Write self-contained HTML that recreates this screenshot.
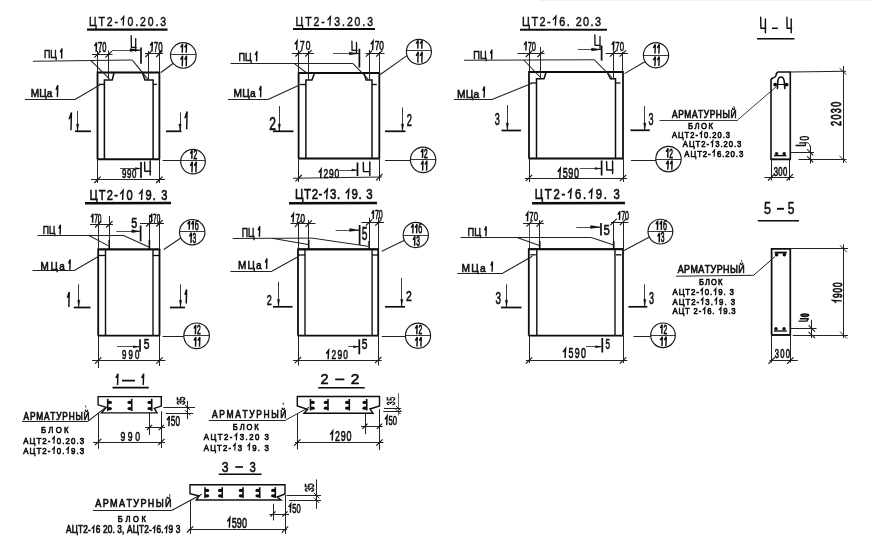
<!DOCTYPE html>
<html><head><meta charset="utf-8"><title>drawing</title>
<style>html,body{margin:0;padding:0;background:#fff;}body{width:872px;height:544px;overflow:hidden;font-family:"Liberation Sans",sans-serif;}</style></head>
<body>
<svg width="872" height="544" viewBox="0 0 872 544" font-family="'Liberation Sans', sans-serif" fill="#111" style="display:block">
<rect width="872" height="544" fill="#ffffff"/>
<g filter="url(#soft)">
<path d="M97.5 159.2 L97.5 72.5 L159.4 72.5 L159.4 159.2" fill="none" stroke="#0c0c0c" stroke-width="1.8" stroke-linejoin="miter"/>
<line x1="97.1" y1="159.2" x2="159.8" y2="159.2" stroke="#0c0c0c" stroke-width="2"/>
<path d="M104.4 159.2 L104.4 80 L112.2 80 L114 73" fill="none" stroke="#0c0c0c" stroke-width="1.5" stroke-linejoin="miter"/>
<path d="M153.1 159.2 L153.1 80 L145 80 L142.5 73" fill="none" stroke="#0c0c0c" stroke-width="1.5" stroke-linejoin="miter"/>
<line x1="99" y1="84.4" x2="104.4" y2="84.4" stroke="#0c0c0c" stroke-width="1.3"/>
<line x1="153.1" y1="84.4" x2="156.9" y2="84.4" stroke="#0c0c0c" stroke-width="1.3"/>
<path d="M298.6 158.6 L298.6 73 L379.3 73 L379.3 158.6" fill="none" stroke="#0c0c0c" stroke-width="1.8" stroke-linejoin="miter"/>
<line x1="298.2" y1="158.6" x2="379.7" y2="158.6" stroke="#0c0c0c" stroke-width="2"/>
<path d="M305.9 158.6 L305.9 80 L311.9 80 L314.4 73.5" fill="none" stroke="#0c0c0c" stroke-width="1.5" stroke-linejoin="miter"/>
<path d="M372 158.6 L372 80 L366.2 80 L364 73.5" fill="none" stroke="#0c0c0c" stroke-width="1.5" stroke-linejoin="miter"/>
<line x1="300.1" y1="84.5" x2="305.9" y2="84.5" stroke="#0c0c0c" stroke-width="1.3"/>
<line x1="372" y1="84.5" x2="376.8" y2="84.5" stroke="#0c0c0c" stroke-width="1.3"/>
<path d="M529 158.5 L529 72 L623 72 L623 158.5" fill="none" stroke="#0c0c0c" stroke-width="1.8" stroke-linejoin="miter"/>
<line x1="528.6" y1="158.5" x2="623.4" y2="158.5" stroke="#0c0c0c" stroke-width="2"/>
<path d="M536.5 158.5 L536.5 78.8 L544 78.8 L546 72.5" fill="none" stroke="#0c0c0c" stroke-width="1.5" stroke-linejoin="miter"/>
<path d="M615.5 158.5 L615.5 78.8 L610.5 78.8 L607.4 72.5" fill="none" stroke="#0c0c0c" stroke-width="1.5" stroke-linejoin="miter"/>
<line x1="530.5" y1="83" x2="536.5" y2="83" stroke="#0c0c0c" stroke-width="1.3"/>
<line x1="615.5" y1="83" x2="620.5" y2="83" stroke="#0c0c0c" stroke-width="1.3"/>
<g transform="translate(89 25.7)"><text transform="scale(0.8000 1)" font-size="13.08" x="0.00 12.01 22.33 31.93 48.23 57.83 63.80 73.40 83.01 88.97" stroke="#111" stroke-width="0.5">ЦТ2-0.20.3</text><path d="M31.83 -5.58 L34.74 -9 L34.16 0" fill="none" stroke="#111" stroke-width="1.33" stroke-linejoin="miter" stroke-linecap="butt"/></g>
<line x1="87" y1="29.6" x2="167.5" y2="29.6" stroke="#0c0c0c" stroke-width="2.1"/>
<g transform="translate(295.5 25.7)"><text transform="scale(0.8000 1)" font-size="13.08" x="0.00 12.07 22.45 32.12 48.54 58.21 64.24 73.90 83.57 89.60" stroke="#111" stroke-width="0.5">ЦТ2-3.20.3</text><path d="M32.03 -5.58 L34.94 -9 L34.36 0" fill="none" stroke="#111" stroke-width="1.33" stroke-linejoin="miter" stroke-linecap="butt"/></g>
<line x1="293" y1="29.1" x2="375" y2="29.1" stroke="#0c0c0c" stroke-width="2"/>
<g transform="translate(522 25.6)"><text transform="scale(0.8000 1)" font-size="13.52" x="0.00 11.78 21.82 31.12 46.71 56.01 67.09 76.39 85.69 91.23" stroke="#111" stroke-width="0.5">ЦТ2-6.20.3</text><path d="M30.89 -5.77 L33.9 -9.3 L33.3 0" fill="none" stroke="#111" stroke-width="1.36" stroke-linejoin="miter" stroke-linecap="butt"/></g>
<line x1="520" y1="29.8" x2="607" y2="29.8" stroke="#0c0c0c" stroke-width="2.1"/>
<g transform="translate(93.8 52)"><text transform="scale(0.5426 1)" font-size="13.81" x="7.68 15.36" stroke="#111" stroke-width="0.65">70</text><path d="M0.67 -5.89 L2.75 -9.5 L2.33 0" fill="none" stroke="#111" stroke-width="1.45" stroke-linejoin="miter" stroke-linecap="butt"/></g>
<line x1="92" y1="54.5" x2="112.5" y2="54.5" stroke="#222" stroke-width="1.05"/>
<line x1="97.5" y1="51" x2="97.5" y2="72.5" stroke="#222" stroke-width="1.05"/>
<line x1="108.5" y1="50.5" x2="108.5" y2="79.5" stroke="#222" stroke-width="1"/>
<line x1="94.3" y1="57.6" x2="100.7" y2="51.2" stroke="#1a1a1a" stroke-width="1.2"/>
<line x1="105.4" y1="57.6" x2="111.8" y2="51.2" stroke="#1a1a1a" stroke-width="1.2"/>
<g transform="translate(149.5 51.5)"><text transform="scale(0.5643 1)" font-size="13.81" x="7.68 15.36" stroke="#111" stroke-width="0.65">70</text><path d="M0.69 -5.89 L2.86 -9.5 L2.43 0" fill="none" stroke="#111" stroke-width="1.45" stroke-linejoin="miter" stroke-linecap="butt"/></g>
<line x1="145" y1="53.5" x2="163" y2="53.5" stroke="#222" stroke-width="1.05"/>
<line x1="148.5" y1="51" x2="148.5" y2="79.5" stroke="#222" stroke-width="1"/>
<line x1="159.5" y1="51.5" x2="159.5" y2="72.5" stroke="#222" stroke-width="1.05"/>
<line x1="145.4" y1="57" x2="151.8" y2="50.6" stroke="#1a1a1a" stroke-width="1.2"/>
<line x1="156.2" y1="57" x2="162.6" y2="50.6" stroke="#1a1a1a" stroke-width="1.2"/>
<line x1="112" y1="50.5" x2="140.5" y2="50.5" stroke="#222" stroke-width="0.8"/>
<path d="M140.5 50 L130 48.5 L130 51.5 Z" fill="#111" stroke="#111" stroke-width="0.3" stroke-linejoin="miter"/>
<line x1="141" y1="47.5" x2="141" y2="63.8" stroke="#0c0c0c" stroke-width="1.7"/>
<path d="M131.2 35.6 L131.4 47.46 L136.1 47.46 M135.7 38.72 L135.7 51.2" fill="none" stroke="#0c0c0c" stroke-width="1.3" stroke-linecap="round" stroke-linejoin="round"/>
<g transform="translate(43.9 58.2)"><text transform="scale(0.7703 1)" font-size="11.48" x="0.00 8.25" stroke="#111" stroke-width="0.6">ПЦ</text></g>
<g transform="translate(59.8 58.5)"><path d="M0.51 -6.14 L2.11 -9.9 L1.79 0" fill="none" stroke="#111" stroke-width="1.45" stroke-linejoin="miter" stroke-linecap="butt"/></g>
<line x1="33" y1="61.2" x2="132.5" y2="60.1" stroke="#222" stroke-width="1.05"/>
<line x1="132.5" y1="60.3" x2="148" y2="79.4" stroke="#222" stroke-width="1.05"/>
<line x1="91" y1="60.6" x2="109.4" y2="78.8" stroke="#222" stroke-width="1.05"/>
<g transform="translate(30.8 96.7)"><text transform="scale(0.8940 1)" font-size="11.34" x="0.00 9.44 17.83" stroke="#111" stroke-width="0.6">МЦа</text></g>
<g transform="translate(55.6 97)"><path d="M0.51 -7.32 L2.11 -11.8 L1.79 0" fill="none" stroke="#111" stroke-width="1.45" stroke-linejoin="miter" stroke-linecap="butt"/></g>
<line x1="25" y1="99.5" x2="75" y2="99.5" stroke="#222" stroke-width="1.05"/>
<line x1="75" y1="99.5" x2="101" y2="84.2" stroke="#222" stroke-width="1.05"/>
<circle cx="183.3" cy="55.4" r="12.8" fill="none" stroke="#151515" stroke-width="1.15"/>
<line x1="170.5" y1="54.5" x2="196.1" y2="54.5" stroke="#222" stroke-width="0.9"/>
<g transform="translate(180 52.8)"><path d="M0.63 -5.39 L2.62 -8.7 L2.22 0" fill="none" stroke="#111" stroke-width="1.45" stroke-linejoin="miter" stroke-linecap="butt"/><path d="M4.6 -5.39 L6.58 -8.7 L6.18 0" fill="none" stroke="#111" stroke-width="1.45" stroke-linejoin="miter" stroke-linecap="butt"/></g>
<g transform="translate(180 66.2)"><path d="M0.63 -6.51 L2.62 -10.5 L2.22 0" fill="none" stroke="#111" stroke-width="1.45" stroke-linejoin="miter" stroke-linecap="butt"/><path d="M4.6 -6.51 L6.58 -10.5 L6.18 0" fill="none" stroke="#111" stroke-width="1.45" stroke-linejoin="miter" stroke-linecap="butt"/></g>
<line x1="173" y1="63.5" x2="161" y2="72.5" stroke="#222" stroke-width="1.05"/>
<g transform="translate(68.4 130.3)"><path d="M0.74 -11.04 L3.04 -17.8 L2.58 0" fill="none" stroke="#111" stroke-width="1.45" stroke-linejoin="miter" stroke-linecap="butt"/></g>
<line x1="77.5" y1="111" x2="77.5" y2="131" stroke="#222" stroke-width="0.9"/>
<path d="M77.6 131 L76.4 124 L78.8 124 Z" fill="#111" stroke="#111" stroke-width="0.3" stroke-linejoin="miter"/>
<line x1="75" y1="131.3" x2="91" y2="131.3" stroke="#0c0c0c" stroke-width="1.7"/>
<line x1="166" y1="131.3" x2="181.5" y2="131.3" stroke="#0c0c0c" stroke-width="1.7"/>
<line x1="180.5" y1="112.5" x2="180.5" y2="131" stroke="#222" stroke-width="0.9"/>
<path d="M180 131 L178.8 124 L181.2 124 Z" fill="#111" stroke="#111" stroke-width="0.3" stroke-linejoin="miter"/>
<g transform="translate(184.2 129.3)"><path d="M0.7 -11.04 L2.9 -17.8 L2.46 0" fill="none" stroke="#111" stroke-width="1.45" stroke-linejoin="miter" stroke-linecap="butt"/></g>
<line x1="97.5" y1="159" x2="97.5" y2="183" stroke="#222" stroke-width="1.05"/>
<line x1="159.5" y1="159" x2="159.5" y2="183" stroke="#222" stroke-width="1.05"/>
<line x1="91" y1="179.5" x2="165" y2="179.5" stroke="#222" stroke-width="1.05"/>
<line x1="94.3" y1="183" x2="100.7" y2="176.6" stroke="#1a1a1a" stroke-width="1.2"/>
<line x1="156.2" y1="183" x2="162.6" y2="176.6" stroke="#1a1a1a" stroke-width="1.2"/>
<g transform="translate(122 178)"><text transform="scale(0.6400 1)" font-size="12.35" x="0.00 7.89 15.79" stroke="#111" stroke-width="0.65">990</text></g>
<line x1="120" y1="168.5" x2="140.5" y2="168.5" stroke="#222" stroke-width="0.8"/>
<path d="M140.5 168.5 L135.5 167.5 L135.5 169.5 Z" fill="#111" stroke="#111" stroke-width="0.3" stroke-linejoin="miter"/>
<line x1="141" y1="162" x2="141" y2="178" stroke="#0c0c0c" stroke-width="1.7"/>
<path d="M144.6 162.3 L144.8 171.19 L150.6 171.19 M150.2 161.03 L150.2 175" fill="none" stroke="#0c0c0c" stroke-width="1.4" stroke-linecap="round" stroke-linejoin="round"/>
<circle cx="193" cy="161.6" r="12.3" fill="none" stroke="#151515" stroke-width="1.15"/>
<line x1="180.7" y1="160.5" x2="205.3" y2="160.5" stroke="#222" stroke-width="0.9"/>
<g transform="translate(189.7 158.9)"><text transform="scale(0.5291 1)" font-size="12.57" x="6.99" stroke="#111" stroke-width="0.8">2</text><path d="M0.59 -5.36 L2.44 -8.65 L2.07 0" fill="none" stroke="#111" stroke-width="1.45" stroke-linejoin="miter" stroke-linecap="butt"/></g>
<g transform="translate(189.7 172.4)"><path d="M0.63 -6.57 L2.62 -10.6 L2.22 0" fill="none" stroke="#111" stroke-width="1.45" stroke-linejoin="miter" stroke-linecap="butt"/><path d="M4.6 -6.57 L6.58 -10.6 L6.18 0" fill="none" stroke="#111" stroke-width="1.45" stroke-linejoin="miter" stroke-linecap="butt"/></g>
<line x1="162.5" y1="160.5" x2="180.8" y2="160.5" stroke="#222" stroke-width="1.05"/>
<g transform="translate(294 50)"><text transform="scale(0.6400 1)" font-size="13.08" x="9.25 18.51" stroke="#111" stroke-width="0.65">70</text><path d="M0.74 -5.58 L3.07 -9 L2.61 0" fill="none" stroke="#111" stroke-width="1.44" stroke-linejoin="miter" stroke-linecap="butt"/></g>
<line x1="292" y1="53.5" x2="314" y2="53.5" stroke="#222" stroke-width="1.05"/>
<line x1="298.5" y1="50" x2="298.5" y2="73" stroke="#222" stroke-width="1.05"/>
<line x1="308.5" y1="51" x2="308.5" y2="79.5" stroke="#222" stroke-width="1"/>
<line x1="295.4" y1="56.5" x2="301.8" y2="50.1" stroke="#1a1a1a" stroke-width="1.2"/>
<line x1="305.3" y1="56.5" x2="311.7" y2="50.1" stroke="#1a1a1a" stroke-width="1.2"/>
<g transform="translate(370 50)"><text transform="scale(0.6400 1)" font-size="13.08" x="7.30 14.60" stroke="#111" stroke-width="0.65">70</text><path d="M0.74 -5.58 L3.07 -9 L2.61 0" fill="none" stroke="#111" stroke-width="1.44" stroke-linejoin="miter" stroke-linecap="butt"/></g>
<line x1="365.5" y1="53.5" x2="384.5" y2="53.5" stroke="#222" stroke-width="1.05"/>
<line x1="369.5" y1="50" x2="369.5" y2="79.5" stroke="#222" stroke-width="1"/>
<line x1="379.5" y1="52" x2="379.5" y2="73" stroke="#222" stroke-width="1.05"/>
<line x1="365.9" y1="56.7" x2="372.3" y2="50.3" stroke="#1a1a1a" stroke-width="1.2"/>
<line x1="376.1" y1="56.7" x2="382.5" y2="50.3" stroke="#1a1a1a" stroke-width="1.2"/>
<line x1="333" y1="53.5" x2="358.8" y2="53.5" stroke="#222" stroke-width="0.8"/>
<path d="M358.8 53.4 L349.3 51.9 L349.3 54.9 Z" fill="#111" stroke="#111" stroke-width="0.3" stroke-linejoin="miter"/>
<line x1="359.4" y1="48.8" x2="359.4" y2="67.5" stroke="#0c0c0c" stroke-width="1.7"/>
<path d="M351.9 41.2 L352.1 50.38 L356.9 50.38 M356.5 42.44 L356.5 53.6" fill="none" stroke="#0c0c0c" stroke-width="1.3" stroke-linecap="round" stroke-linejoin="round"/>
<g transform="translate(238.5 61)"><text transform="scale(0.7942 1)" font-size="11.48" x="0.00 8.25" stroke="#111" stroke-width="0.6">ПЦ</text></g>
<g transform="translate(254.8 61.3)"><path d="M0.51 -6.26 L2.11 -10.1 L1.79 0" fill="none" stroke="#111" stroke-width="1.45" stroke-linejoin="miter" stroke-linecap="butt"/></g>
<line x1="230.5" y1="63.5" x2="353" y2="63.5" stroke="#222" stroke-width="1.05"/>
<line x1="353" y1="63.6" x2="368" y2="78.8" stroke="#222" stroke-width="1.05"/>
<line x1="294.4" y1="63.6" x2="308" y2="74" stroke="#222" stroke-width="1.05"/>
<g transform="translate(233.5 97)"><text transform="scale(0.9000 1)" font-size="11.34" x="0.00 9.64 18.22" stroke="#111" stroke-width="0.6">МЦа</text></g>
<g transform="translate(258.8 97.3)"><path d="M0.51 -7.01 L2.11 -11.3 L1.79 0" fill="none" stroke="#111" stroke-width="1.45" stroke-linejoin="miter" stroke-linecap="butt"/></g>
<line x1="228" y1="99.5" x2="268" y2="99.5" stroke="#222" stroke-width="1.05"/>
<line x1="268" y1="99.5" x2="299.5" y2="85" stroke="#222" stroke-width="1.05"/>
<circle cx="418.9" cy="51.8" r="12.5" fill="none" stroke="#151515" stroke-width="1.15"/>
<line x1="406.4" y1="50.5" x2="431.4" y2="50.5" stroke="#222" stroke-width="0.9"/>
<g transform="translate(415.6 48.8)"><path d="M0.63 -5.27 L2.62 -8.5 L2.22 0" fill="none" stroke="#111" stroke-width="1.45" stroke-linejoin="miter" stroke-linecap="butt"/><path d="M4.6 -5.27 L6.58 -8.5 L6.18 0" fill="none" stroke="#111" stroke-width="1.45" stroke-linejoin="miter" stroke-linecap="butt"/></g>
<g transform="translate(415.6 62.6)"><path d="M0.63 -6.76 L2.62 -10.9 L2.22 0" fill="none" stroke="#111" stroke-width="1.45" stroke-linejoin="miter" stroke-linecap="butt"/><path d="M4.6 -6.76 L6.58 -10.9 L6.18 0" fill="none" stroke="#111" stroke-width="1.45" stroke-linejoin="miter" stroke-linecap="butt"/></g>
<line x1="406.9" y1="55.6" x2="380.3" y2="74.5" stroke="#222" stroke-width="1.05"/>
<g transform="translate(269.3 130)"><text transform="scale(0.6907 1)" font-size="17.44" x="0.00" stroke="#111" stroke-width="0.65">2</text></g>
<line x1="279.5" y1="106" x2="279.5" y2="131" stroke="#222" stroke-width="0.9"/>
<path d="M279.3 131 L278.1 124 L280.5 124 Z" fill="#111" stroke="#111" stroke-width="0.3" stroke-linejoin="miter"/>
<line x1="273" y1="131.3" x2="293.5" y2="131.3" stroke="#0c0c0c" stroke-width="1.7"/>
<line x1="385" y1="131.3" x2="405.5" y2="131.3" stroke="#0c0c0c" stroke-width="1.7"/>
<line x1="402.5" y1="107.5" x2="402.5" y2="131" stroke="#222" stroke-width="0.9"/>
<path d="M402.5 131 L401.3 124 L403.7 124 Z" fill="#111" stroke="#111" stroke-width="0.3" stroke-linejoin="miter"/>
<g transform="translate(406.8 125.5)"><text transform="scale(0.5848 1)" font-size="15.99" x="0.00" stroke="#111" stroke-width="0.65">2</text></g>
<line x1="298.5" y1="158.6" x2="298.5" y2="182" stroke="#222" stroke-width="1.05"/>
<line x1="379.5" y1="158.6" x2="379.5" y2="181" stroke="#222" stroke-width="1.05"/>
<line x1="293" y1="178.3" x2="382" y2="177" stroke="#222" stroke-width="1.05"/>
<line x1="295.4" y1="181.4" x2="301.8" y2="175" stroke="#1a1a1a" stroke-width="1.2"/>
<line x1="376.1" y1="180.3" x2="382.5" y2="173.9" stroke="#1a1a1a" stroke-width="1.2"/>
<g transform="translate(318 178.3)"><text transform="scale(0.6400 1)" font-size="13.23" x="8.64 17.28 25.93" stroke="#111" stroke-width="0.65">290</text><path d="M0.75 -5.64 L3.11 -9.1 L2.64 0" fill="none" stroke="#111" stroke-width="1.45" stroke-linejoin="miter" stroke-linecap="butt"/></g>
<line x1="339" y1="170.5" x2="356.8" y2="170.5" stroke="#222" stroke-width="0.8"/>
<path d="M356.8 170 L351.8 169 L351.8 171 Z" fill="#111" stroke="#111" stroke-width="0.3" stroke-linejoin="miter"/>
<line x1="357.5" y1="162.5" x2="357.5" y2="176" stroke="#0c0c0c" stroke-width="1.7"/>
<path d="M363.3 162.5 L363.5 171.6 L370.2 171.6 M369.8 161.85 L369.8 175.5" fill="none" stroke="#0c0c0c" stroke-width="1.4" stroke-linecap="round" stroke-linejoin="round"/>
<circle cx="423.1" cy="159.85" r="12.7" fill="none" stroke="#151515" stroke-width="1.15"/>
<line x1="410.4" y1="159.5" x2="435.8" y2="159.5" stroke="#222" stroke-width="0.9"/>
<g transform="translate(420.4 157.85)"><text transform="scale(0.5086 1)" font-size="13.08" x="7.28" stroke="#111" stroke-width="0.8">2</text><path d="M0.59 -5.58 L2.44 -9 L2.07 0" fill="none" stroke="#111" stroke-width="1.45" stroke-linejoin="miter" stroke-linecap="butt"/></g>
<g transform="translate(420.4 170.65)"><path d="M0.63 -6.14 L2.62 -9.9 L2.22 0" fill="none" stroke="#111" stroke-width="1.45" stroke-linejoin="miter" stroke-linecap="butt"/><path d="M4.6 -6.14 L6.58 -9.9 L6.18 0" fill="none" stroke="#111" stroke-width="1.45" stroke-linejoin="miter" stroke-linecap="butt"/></g>
<line x1="385" y1="160.5" x2="410.5" y2="160.5" stroke="#222" stroke-width="1.05"/>
<g transform="translate(523.5 50.5)"><text transform="scale(0.5727 1)" font-size="13.08" x="7.28 14.55" stroke="#111" stroke-width="0.65">70</text><path d="M0.67 -5.58 L2.75 -9 L2.33 0" fill="none" stroke="#111" stroke-width="1.44" stroke-linejoin="miter" stroke-linecap="butt"/></g>
<line x1="517.5" y1="53.5" x2="544.5" y2="53.5" stroke="#222" stroke-width="1.05"/>
<line x1="529.5" y1="50" x2="529.5" y2="72" stroke="#222" stroke-width="1.05"/>
<line x1="540.5" y1="47" x2="540.5" y2="78.3" stroke="#222" stroke-width="1"/>
<line x1="525.8" y1="57" x2="532.2" y2="50.6" stroke="#1a1a1a" stroke-width="1.2"/>
<line x1="537.4" y1="57" x2="543.8" y2="50.6" stroke="#1a1a1a" stroke-width="1.2"/>
<g transform="translate(611 50.6)"><text transform="scale(0.5764 1)" font-size="13.52" x="7.52 15.04" stroke="#111" stroke-width="0.65">70</text><path d="M0.69 -5.77 L2.86 -9.3 L2.43 0" fill="none" stroke="#111" stroke-width="1.45" stroke-linejoin="miter" stroke-linecap="butt"/></g>
<line x1="605.6" y1="53.5" x2="628" y2="53.5" stroke="#222" stroke-width="1.05"/>
<line x1="613.5" y1="51" x2="613.5" y2="78.3" stroke="#222" stroke-width="1"/>
<line x1="622.5" y1="52" x2="622.5" y2="72" stroke="#222" stroke-width="1.05"/>
<line x1="609.9" y1="56.7" x2="616.3" y2="50.3" stroke="#1a1a1a" stroke-width="1.2"/>
<line x1="619.6" y1="56.7" x2="626" y2="50.3" stroke="#1a1a1a" stroke-width="1.2"/>
<line x1="577.5" y1="49.5" x2="601" y2="49.5" stroke="#222" stroke-width="0.8"/>
<path d="M601 49.4 L591.5 47.9 L591.5 50.9 Z" fill="#111" stroke="#111" stroke-width="0.3" stroke-linejoin="miter"/>
<line x1="601.6" y1="45.6" x2="601.6" y2="60.6" stroke="#0c0c0c" stroke-width="1.7"/>
<path d="M594.8 35 L595 45.36 L600.4 45.36 M600 36.4 L600 49" fill="none" stroke="#0c0c0c" stroke-width="1.3" stroke-linecap="round" stroke-linejoin="round"/>
<g transform="translate(473.3 59.3)"><text transform="scale(0.8061 1)" font-size="11.48" x="0.00 8.25" stroke="#111" stroke-width="0.6">ПЦ</text></g>
<g transform="translate(489.8 59.6)"><path d="M0.51 -6.14 L2.11 -9.9 L1.79 0" fill="none" stroke="#111" stroke-width="1.45" stroke-linejoin="miter" stroke-linecap="butt"/></g>
<line x1="464" y1="60.2" x2="594.4" y2="59.8" stroke="#222" stroke-width="1.05"/>
<line x1="594.4" y1="59.8" x2="612" y2="77.5" stroke="#222" stroke-width="1.05"/>
<line x1="523.8" y1="60" x2="540" y2="77" stroke="#222" stroke-width="1.05"/>
<g transform="translate(457 97.5)"><text transform="scale(0.9000 1)" font-size="11.34" x="0.00 9.64 18.22" stroke="#111" stroke-width="0.6">МЦа</text></g>
<g transform="translate(482.3 97.8)"><path d="M0.51 -7.01 L2.11 -11.3 L1.79 0" fill="none" stroke="#111" stroke-width="1.45" stroke-linejoin="miter" stroke-linecap="butt"/></g>
<line x1="454" y1="99.5" x2="492" y2="99.5" stroke="#222" stroke-width="1.05"/>
<line x1="492" y1="99.5" x2="531.5" y2="83.6" stroke="#222" stroke-width="1.05"/>
<circle cx="656" cy="55.2" r="12.6" fill="none" stroke="#151515" stroke-width="1.15"/>
<line x1="643.4" y1="55.5" x2="668.6" y2="55.5" stroke="#222" stroke-width="0.9"/>
<g transform="translate(652.7 53.6)"><path d="M0.63 -5.7 L2.62 -9.2 L2.22 0" fill="none" stroke="#111" stroke-width="1.45" stroke-linejoin="miter" stroke-linecap="butt"/><path d="M4.6 -5.7 L6.58 -9.2 L6.18 0" fill="none" stroke="#111" stroke-width="1.45" stroke-linejoin="miter" stroke-linecap="butt"/></g>
<g transform="translate(652.7 66)"><path d="M0.63 -5.89 L2.62 -9.5 L2.22 0" fill="none" stroke="#111" stroke-width="1.45" stroke-linejoin="miter" stroke-linecap="butt"/><path d="M4.6 -5.89 L6.58 -9.5 L6.18 0" fill="none" stroke="#111" stroke-width="1.45" stroke-linejoin="miter" stroke-linecap="butt"/></g>
<line x1="644.8" y1="61.7" x2="624.5" y2="73.6" stroke="#222" stroke-width="1.05"/>
<g transform="translate(494.8 125)"><text transform="scale(0.5523 1)" font-size="16.28" x="0.00" stroke="#111" stroke-width="0.65">3</text></g>
<line x1="507.5" y1="105" x2="507.5" y2="130" stroke="#222" stroke-width="0.9"/>
<path d="M507.3 130 L506.1 123 L508.5 123 Z" fill="#111" stroke="#111" stroke-width="0.3" stroke-linejoin="miter"/>
<line x1="501.5" y1="130.5" x2="521" y2="130.5" stroke="#0c0c0c" stroke-width="1.7"/>
<line x1="630.5" y1="130.3" x2="649.8" y2="130.3" stroke="#0c0c0c" stroke-width="1.7"/>
<line x1="644.5" y1="106" x2="644.5" y2="130" stroke="#222" stroke-width="0.9"/>
<path d="M644.8 130 L643.6 123 L646 123 Z" fill="#111" stroke="#111" stroke-width="0.3" stroke-linejoin="miter"/>
<g transform="translate(648.6 125)"><text transform="scale(0.5523 1)" font-size="16.28" x="0.00" stroke="#111" stroke-width="0.65">3</text></g>
<line x1="529.5" y1="158.5" x2="529.5" y2="182" stroke="#222" stroke-width="1.05"/>
<line x1="623.5" y1="158.5" x2="623.5" y2="182" stroke="#222" stroke-width="1.05"/>
<line x1="524.8" y1="178.5" x2="627" y2="178.5" stroke="#222" stroke-width="1.05"/>
<line x1="525.8" y1="181.2" x2="532.2" y2="174.8" stroke="#1a1a1a" stroke-width="1.2"/>
<line x1="619.8" y1="181.2" x2="626.2" y2="174.8" stroke="#1a1a1a" stroke-width="1.2"/>
<g transform="translate(557 178)"><text transform="scale(0.6400 1)" font-size="14.1" x="8.84 17.69 26.53" stroke="#111" stroke-width="0.65">590</text><path d="M0.8 -6.01 L3.31 -9.7 L2.81 0" fill="none" stroke="#111" stroke-width="1.45" stroke-linejoin="miter" stroke-linecap="butt"/></g>
<line x1="579.8" y1="168.5" x2="601" y2="168.5" stroke="#222" stroke-width="0.8"/>
<path d="M601 168.5 L595 167.4 L595 169.6 Z" fill="#111" stroke="#111" stroke-width="0.3" stroke-linejoin="miter"/>
<line x1="601.6" y1="160.5" x2="601.6" y2="175.5" stroke="#0c0c0c" stroke-width="1.7"/>
<path d="M606.6 161.6 L606.8 170 L613 170 M612.6 161 L612.6 173.6" fill="none" stroke="#0c0c0c" stroke-width="1.4" stroke-linecap="round" stroke-linejoin="round"/>
<circle cx="668.5" cy="159" r="12.7" fill="none" stroke="#151515" stroke-width="1.15"/>
<line x1="655.8" y1="159.5" x2="681.2" y2="159.5" stroke="#222" stroke-width="0.9"/>
<g transform="translate(665.6 157.7)"><text transform="scale(0.4895 1)" font-size="13.59" x="7.56" stroke="#111" stroke-width="0.8">2</text><path d="M0.59 -5.8 L2.44 -9.35 L2.07 0" fill="none" stroke="#111" stroke-width="1.45" stroke-linejoin="miter" stroke-linecap="butt"/></g>
<g transform="translate(665.6 169.8)"><path d="M0.63 -5.7 L2.62 -9.2 L2.22 0" fill="none" stroke="#111" stroke-width="1.45" stroke-linejoin="miter" stroke-linecap="butt"/><path d="M4.6 -5.7 L6.58 -9.2 L6.18 0" fill="none" stroke="#111" stroke-width="1.45" stroke-linejoin="miter" stroke-linecap="butt"/></g>
<line x1="631" y1="160.5" x2="656" y2="160.5" stroke="#222" stroke-width="1.05"/>
<path d="M760.7 17.3 L760.9 28.31 L765.8 28.31 M765.4 18.84 L765.4 32.7" fill="none" stroke="#0c0c0c" stroke-width="1.4" stroke-linecap="round" stroke-linejoin="round"/>
<line x1="772" y1="28.3" x2="777.8" y2="28.3" stroke="#0c0c0c" stroke-width="1.5"/>
<path d="M786.9 17.3 L787.1 28.31 L791.6 28.31 M791.2 18.84 L791.2 32.7" fill="none" stroke="#0c0c0c" stroke-width="1.4" stroke-linecap="round" stroke-linejoin="round"/>
<line x1="757" y1="38.8" x2="794.5" y2="38.8" stroke="#0c0c0c" stroke-width="1.5"/>
<path d="M771 159.3 L771 80.5 Q771 78.5 773.5 77.8 Q776 77 776.3 74.5 Q776.5 72.1 778.5 72 L790.3 72 L790.3 159.3" fill="none" stroke="#0c0c0c" stroke-width="1.6" stroke-linecap="round" stroke-linejoin="round"/>
<line x1="770.6" y1="159.3" x2="790.7" y2="159.3" stroke="#0c0c0c" stroke-width="1.9"/>
<path d="M777.4 88.5 L777.8 81 Q778.3 77 781 77 Q783.6 77 784.2 81 L784.8 88.5" fill="none" stroke="#0c0c0c" stroke-width="1.6" stroke-linecap="round" stroke-linejoin="round"/>
<line x1="774.5" y1="84.5" x2="787.5" y2="84.5" stroke="#0c0c0c" stroke-width="1"/>
<circle cx="775.2" cy="84.6" r="1.9" fill="#0a0a0a"/>
<circle cx="786.6" cy="84.6" r="1.9" fill="#0a0a0a"/>
<line x1="776.3" y1="86.6" x2="737.8" y2="119.8" stroke="#222" stroke-width="0.9"/>
<line x1="659.5" y1="120.5" x2="737.8" y2="120.5" stroke="#222" stroke-width="0.9"/>
<g transform="translate(672 118.2)"><text transform="scale(0.8000 1)" font-size="10.47" x="0.00 7.71 15.41 24.86 32.56 39.68 47.06 54.76 63.05 73.04" stroke="#111" stroke-width="0.7">АРМАТУРНЫЙ</text></g>
<line x1="733.8" y1="106" x2="734.2" y2="108.6" stroke="#222" stroke-width="0.8"/>
<g transform="translate(688 129.3)"><text transform="scale(0.8000 1)" font-size="9.59" x="0.00 8.17 16.33 25.66" stroke="#111" stroke-width="0.7">БЛОК</text></g>
<g transform="translate(672 138.2)"><text transform="scale(0.8000 1)" font-size="9.45" x="0.00 7.53 15.75 22.75 29.23 40.09 46.57 50.43 56.91 63.39 67.25" stroke="#111" stroke-width="0.7">АЦТ2-0.20.3</text><path d="M27.56 -4.03 L29.66 -6.5 L29.24 0" fill="none" stroke="#111" stroke-width="1.2" stroke-linejoin="miter" stroke-linecap="butt"/></g>
<g transform="translate(682.8 147.3)"><text transform="scale(0.8000 1)" font-size="9.59" x="0.00 7.61 15.92 23.00 29.55 40.51 47.06 50.94 57.49 64.04 67.91" stroke="#111" stroke-width="0.7">АЦТ2-3.20.3</text><path d="M27.85 -4.09 L29.98 -6.6 L29.56 0" fill="none" stroke="#111" stroke-width="1.21" stroke-linejoin="miter" stroke-linecap="butt"/></g>
<g transform="translate(684.3 156.8)"><text transform="scale(0.8000 1)" font-size="9.74" x="0.00 7.67 16.05 23.18 29.77 40.79 47.38 51.26 57.86 64.45 68.33" stroke="#111" stroke-width="0.7">АЦТ2-6.20.3</text><path d="M28.05 -4.15 L30.21 -6.7 L29.78 0" fill="none" stroke="#111" stroke-width="1.22" stroke-linejoin="miter" stroke-linecap="butt"/></g>
<line x1="790.3" y1="72" x2="846" y2="71.2" stroke="#222" stroke-width="1.05"/>
<line x1="843.5" y1="66" x2="843.5" y2="163" stroke="#222" stroke-width="1.05"/>
<line x1="839.6" y1="68.3" x2="846.4" y2="74.6" stroke="#222" stroke-width="1"/>
<g transform="translate(841 126) rotate(-90)"><text transform="scale(0.6400 1)" font-size="14.1" x="0.00 9.99 19.98 29.97" stroke="#111" stroke-width="0.85">2030</text></g>
<line x1="798.5" y1="159.5" x2="846.5" y2="159.5" stroke="#222" stroke-width="1.05"/>
<line x1="839.5" y1="156" x2="846.5" y2="162.5" stroke="#222" stroke-width="1"/>
<line x1="790.3" y1="152.5" x2="814" y2="152.5" stroke="#222" stroke-width="1.05"/>
<line x1="810.5" y1="146" x2="810.5" y2="163.5" stroke="#222" stroke-width="1.05"/>
<line x1="807.2" y1="149.3" x2="813.2" y2="155.3" stroke="#1a1a1a" stroke-width="1.1"/>
<line x1="807.2" y1="156.3" x2="813.2" y2="162.3" stroke="#1a1a1a" stroke-width="1.1"/>
<path d="M796.1 145.5 L805.3 145.5 L805.3 142.9 L799.7 142.9" fill="none" stroke="#111" stroke-width="1.3" stroke-linecap="round" stroke-linejoin="round"/>
<path d="M805.3 142.6 Q809.8 142 810.2 146.5" fill="none" stroke="#222" stroke-width="1" stroke-linecap="round" stroke-linejoin="round"/>
<ellipse cx="804.4" cy="138.2" rx="4.1" ry="1.6" fill="none" stroke="#111" stroke-width="1.3"/>
<line x1="774" y1="155.6" x2="786.5" y2="155.6" stroke="#0c0c0c" stroke-width="1.4"/>
<circle cx="776.6" cy="153.6" r="1.7" fill="#0a0a0a"/>
<circle cx="784.2" cy="153.6" r="1.7" fill="#0a0a0a"/>
<line x1="771.5" y1="159.3" x2="771.5" y2="180.5" stroke="#222" stroke-width="1.05"/>
<line x1="789.5" y1="159.3" x2="789.5" y2="180.5" stroke="#222" stroke-width="1.05"/>
<line x1="764.5" y1="177.5" x2="794" y2="177.5" stroke="#222" stroke-width="1.05"/>
<line x1="768" y1="180.5" x2="774.4" y2="174.1" stroke="#1a1a1a" stroke-width="1.2"/>
<line x1="786.6" y1="180.5" x2="793" y2="174.1" stroke="#1a1a1a" stroke-width="1.2"/>
<g transform="translate(773.8 175.8)"><text transform="scale(0.6400 1)" font-size="12.06" x="0.00 7.11 14.23" stroke="#111" stroke-width="0.65">300</text></g>
<path d="M98.2 335.6 L98.2 249.4 L159.5 249.4 L159.5 335.6" fill="none" stroke="#0c0c0c" stroke-width="1.8" stroke-linejoin="miter"/>
<line x1="97.8" y1="249.4" x2="159.9" y2="249.4" stroke="#0c0c0c" stroke-width="1.9"/>
<line x1="97.8" y1="335.6" x2="159.9" y2="335.6" stroke="#0c0c0c" stroke-width="1.9"/>
<line x1="105.5" y1="249.4" x2="105.5" y2="335.6" stroke="#0c0c0c" stroke-width="1.4"/>
<line x1="153" y1="249.4" x2="153" y2="335.6" stroke="#0c0c0c" stroke-width="1.4"/>
<line x1="98.2" y1="255.5" x2="105.5" y2="255.5" stroke="#0c0c0c" stroke-width="1.3"/>
<line x1="153" y1="255.5" x2="159.5" y2="255.5" stroke="#0c0c0c" stroke-width="1.3"/>
<path d="M298 335.6 L298 249.3 L378.2 249.3 L378.2 335.6" fill="none" stroke="#0c0c0c" stroke-width="1.8" stroke-linejoin="miter"/>
<line x1="297.6" y1="249.3" x2="378.6" y2="249.3" stroke="#0c0c0c" stroke-width="1.9"/>
<line x1="297.6" y1="335.6" x2="378.6" y2="335.6" stroke="#0c0c0c" stroke-width="1.9"/>
<line x1="305" y1="249.3" x2="305" y2="335.6" stroke="#0c0c0c" stroke-width="1.4"/>
<line x1="372.1" y1="249.3" x2="372.1" y2="335.6" stroke="#0c0c0c" stroke-width="1.4"/>
<line x1="298" y1="255" x2="305" y2="255" stroke="#0c0c0c" stroke-width="1.3"/>
<line x1="372.1" y1="255" x2="378.2" y2="255" stroke="#0c0c0c" stroke-width="1.3"/>
<path d="M528.8 335.6 L528.8 249.2 L623 249.2 L623 335.6" fill="none" stroke="#0c0c0c" stroke-width="1.8" stroke-linejoin="miter"/>
<line x1="528.4" y1="249.2" x2="623.4" y2="249.2" stroke="#0c0c0c" stroke-width="1.9"/>
<line x1="528.4" y1="335.6" x2="623.4" y2="335.6" stroke="#0c0c0c" stroke-width="1.9"/>
<line x1="536.8" y1="249.2" x2="536.8" y2="335.6" stroke="#0c0c0c" stroke-width="1.4"/>
<line x1="615" y1="249.2" x2="615" y2="335.6" stroke="#0c0c0c" stroke-width="1.4"/>
<line x1="530.4" y1="254.8" x2="535.84" y2="254.8" stroke="#0c0c0c" stroke-width="1.3"/>
<line x1="615.96" y1="254.8" x2="621.4" y2="254.8" stroke="#0c0c0c" stroke-width="1.3"/>
<g transform="translate(89.5 200)"><text transform="scale(0.8000 1)" font-size="13.81" x="0.00 11.73 21.68 30.87 46.18 69.92 79.12 89.82" stroke="#111" stroke-width="0.65">ЦТ2-09.3</text><path d="M30.57 -5.89 L33.64 -9.5 L33.03 0" fill="none" stroke="#111" stroke-width="1.45" stroke-linejoin="miter" stroke-linecap="butt"/><path d="M49.57 -5.89 L52.64 -9.5 L52.02 0" fill="none" stroke="#111" stroke-width="1.45" stroke-linejoin="miter" stroke-linecap="butt"/></g>
<line x1="85" y1="203.2" x2="171" y2="203" stroke="#0c0c0c" stroke-width="2.5"/>
<g transform="translate(295 199.3)"><text transform="scale(0.8000 1)" font-size="14.24" x="0.00 11.33 20.83 29.54 43.80 52.51 70.73 79.45 88.95" stroke="#111" stroke-width="0.65">ЦТ2-3.9.3</text><path d="M29.08 -6.08 L32.25 -9.8 L31.61 0" fill="none" stroke="#111" stroke-width="1.45" stroke-linejoin="miter" stroke-linecap="butt"/><path d="M50.63 -6.08 L53.8 -9.8 L53.16 0" fill="none" stroke="#111" stroke-width="1.45" stroke-linejoin="miter" stroke-linecap="butt"/></g>
<line x1="289" y1="203.2" x2="377" y2="203" stroke="#0c0c0c" stroke-width="2.5"/>
<g transform="translate(534.8 199)"><text transform="scale(0.8000 1)" font-size="14.1" x="0.00 12.59 23.35 33.35 50.20 60.20 76.27 86.26 98.41" stroke="#111" stroke-width="0.65">ЦТ2-6.9.3</text><path d="M33.17 -6.01 L36.3 -9.7 L35.67 0" fill="none" stroke="#111" stroke-width="1.45" stroke-linejoin="miter" stroke-linecap="butt"/><path d="M54.02 -6.01 L57.16 -9.7 L56.53 0" fill="none" stroke="#111" stroke-width="1.45" stroke-linejoin="miter" stroke-linecap="butt"/></g>
<line x1="532" y1="203.2" x2="625" y2="203" stroke="#0c0c0c" stroke-width="2.5"/>
<g transform="translate(90.5 222.8)"><text transform="scale(0.5040 1)" font-size="13.08" x="7.28 14.55" stroke="#111" stroke-width="0.65">70</text><path d="M0.59 -5.58 L2.42 -9 L2.05 0" fill="none" stroke="#111" stroke-width="1.44" stroke-linejoin="miter" stroke-linecap="butt"/></g>
<line x1="90" y1="224.5" x2="113" y2="224.5" stroke="#222" stroke-width="1.05"/>
<line x1="98.5" y1="216" x2="98.5" y2="249.5" stroke="#222" stroke-width="1.05"/>
<line x1="109.5" y1="216" x2="109.5" y2="240" stroke="#222" stroke-width="1.05"/>
<line x1="109.2" y1="240" x2="109.2" y2="249" stroke="#0c0c0c" stroke-width="1.6"/>
<line x1="95" y1="227.5" x2="101.4" y2="221.1" stroke="#1a1a1a" stroke-width="1.2"/>
<line x1="106.1" y1="227.5" x2="112.5" y2="221.1" stroke="#1a1a1a" stroke-width="1.2"/>
<g transform="translate(149.5 222.5)"><text transform="scale(0.5119 1)" font-size="12.65" x="7.03 14.07" stroke="#111" stroke-width="0.65">70</text><path d="M0.58 -5.39 L2.38 -8.7 L2.02 0" fill="none" stroke="#111" stroke-width="1.4" stroke-linejoin="miter" stroke-linecap="butt"/></g>
<line x1="140" y1="223.5" x2="164" y2="223.5" stroke="#222" stroke-width="1.05"/>
<line x1="149.5" y1="215" x2="149.5" y2="240" stroke="#222" stroke-width="1.05"/>
<line x1="149.4" y1="240" x2="149.4" y2="249" stroke="#0c0c0c" stroke-width="1.6"/>
<line x1="159.5" y1="215" x2="159.5" y2="249.5" stroke="#222" stroke-width="1.05"/>
<line x1="146.1" y1="226.5" x2="152.5" y2="220.1" stroke="#1a1a1a" stroke-width="1.2"/>
<line x1="156.3" y1="226.5" x2="162.7" y2="220.1" stroke="#1a1a1a" stroke-width="1.2"/>
<g transform="translate(131.3 227.5)"><text transform="scale(0.7422 1)" font-size="14.53" x="0.00" stroke="#111" stroke-width="0.65">5</text></g>
<line x1="116.3" y1="231.5" x2="140.3" y2="231.5" stroke="#222" stroke-width="0.8"/>
<path d="M140.3 231.2 L131.8 229.7 L131.8 232.7 Z" fill="#111" stroke="#111" stroke-width="0.3" stroke-linejoin="miter"/>
<line x1="140.6" y1="225.5" x2="140.6" y2="241.3" stroke="#0c0c0c" stroke-width="1.7"/>
<g transform="translate(42.8 234.3)"><text transform="scale(0.7759 1)" font-size="11.05" x="0.00 7.94" stroke="#111" stroke-width="0.6">ПЦ</text></g>
<g transform="translate(58.3 234.6)"><path d="M0.51 -6.08 L2.11 -9.8 L1.79 0" fill="none" stroke="#111" stroke-width="1.45" stroke-linejoin="miter" stroke-linecap="butt"/></g>
<line x1="37.5" y1="235.5" x2="123" y2="235.5" stroke="#222" stroke-width="1.05"/>
<line x1="123" y1="235.3" x2="148.8" y2="247" stroke="#222" stroke-width="1.05"/>
<line x1="88.5" y1="235.3" x2="108" y2="245.6" stroke="#222" stroke-width="1.05"/>
<g transform="translate(40.5 269.5)"><text transform="scale(0.9000 1)" font-size="11.05" x="0.00 10.99 20.95" stroke="#111" stroke-width="0.6">МЦа</text></g>
<g transform="translate(68.1 269.8)"><path d="M0.51 -6.39 L2.11 -10.3 L1.79 0" fill="none" stroke="#111" stroke-width="1.45" stroke-linejoin="miter" stroke-linecap="butt"/></g>
<line x1="32.5" y1="270.5" x2="73.8" y2="270.5" stroke="#222" stroke-width="1.05"/>
<line x1="73.8" y1="270.8" x2="98.8" y2="256.3" stroke="#222" stroke-width="1.05"/>
<circle cx="192.2" cy="232.2" r="12.7" fill="none" stroke="#151515" stroke-width="1.15"/>
<line x1="179.5" y1="231.5" x2="204.9" y2="231.5" stroke="#222" stroke-width="0.9"/>
<g transform="translate(187.05 229.7)"><text transform="scale(0.5418 1)" font-size="12.72" x="14.15" stroke="#111" stroke-width="0.8">б</text><path d="M0.61 -5.42 L2.53 -8.75 L2.15 0" fill="none" stroke="#111" stroke-width="1.45" stroke-linejoin="miter" stroke-linecap="butt"/><path d="M4.45 -5.42 L6.36 -8.75 L5.98 0" fill="none" stroke="#111" stroke-width="1.45" stroke-linejoin="miter" stroke-linecap="butt"/></g>
<g transform="translate(188.9 243)"><text transform="scale(0.4401 1)" font-size="15.12" x="8.41" stroke="#111" stroke-width="0.8">3</text><path d="M0.59 -6.45 L2.44 -10.4 L2.07 0" fill="none" stroke="#111" stroke-width="1.45" stroke-linejoin="miter" stroke-linecap="butt"/></g>
<line x1="180.8" y1="238" x2="163.8" y2="249.5" stroke="#222" stroke-width="1.05"/>
<g transform="translate(66.8 307)"><path d="M0.59 -9.3 L2.44 -15 L2.07 0" fill="none" stroke="#111" stroke-width="1.45" stroke-linejoin="miter" stroke-linecap="butt"/></g>
<line x1="78.5" y1="284.3" x2="78.5" y2="307" stroke="#222" stroke-width="0.9"/>
<path d="M78.8 307 L77.6 300 L80 300 Z" fill="#111" stroke="#111" stroke-width="0.3" stroke-linejoin="miter"/>
<line x1="73.8" y1="307.5" x2="90.5" y2="307.5" stroke="#0c0c0c" stroke-width="1.7"/>
<line x1="170" y1="307.5" x2="185" y2="307.5" stroke="#0c0c0c" stroke-width="1.7"/>
<line x1="180.5" y1="284.3" x2="180.5" y2="307" stroke="#222" stroke-width="0.9"/>
<path d="M180.5 307 L179.3 300 L181.7 300 Z" fill="#111" stroke="#111" stroke-width="0.3" stroke-linejoin="miter"/>
<g transform="translate(184.3 303.5)"><path d="M0.56 -8.68 L2.31 -14 L1.96 0" fill="none" stroke="#111" stroke-width="1.45" stroke-linejoin="miter" stroke-linecap="butt"/></g>
<circle cx="196.6" cy="335.8" r="12.8" fill="none" stroke="#151515" stroke-width="1.15"/>
<line x1="183.8" y1="335.5" x2="209.4" y2="335.5" stroke="#222" stroke-width="0.9"/>
<g transform="translate(193.3 334.2)"><text transform="scale(0.4975 1)" font-size="13.37" x="7.44" stroke="#111" stroke-width="0.8">2</text><path d="M0.59 -5.7 L2.44 -9.2 L2.07 0" fill="none" stroke="#111" stroke-width="1.45" stroke-linejoin="miter" stroke-linecap="butt"/></g>
<g transform="translate(193.3 346.6)"><path d="M0.63 -5.89 L2.62 -9.5 L2.22 0" fill="none" stroke="#111" stroke-width="1.45" stroke-linejoin="miter" stroke-linecap="butt"/><path d="M4.6 -5.89 L6.58 -9.5 L6.18 0" fill="none" stroke="#111" stroke-width="1.45" stroke-linejoin="miter" stroke-linecap="butt"/></g>
<line x1="162.5" y1="336.5" x2="183.8" y2="336.5" stroke="#222" stroke-width="1.05"/>
<line x1="98.5" y1="335.6" x2="98.5" y2="368" stroke="#222" stroke-width="1.05"/>
<line x1="159.5" y1="335.6" x2="159.5" y2="366" stroke="#222" stroke-width="1.05"/>
<line x1="92" y1="360.5" x2="165.5" y2="360.5" stroke="#222" stroke-width="1.05"/>
<line x1="95" y1="363.7" x2="101.4" y2="357.3" stroke="#1a1a1a" stroke-width="1.2"/>
<line x1="156.3" y1="363.7" x2="162.7" y2="357.3" stroke="#1a1a1a" stroke-width="1.2"/>
<g transform="translate(122 359.3)"><text transform="scale(0.6400 1)" font-size="12.35" x="0.00 10.24 20.47" stroke="#111" stroke-width="0.65">990</text></g>
<line x1="117" y1="346.5" x2="139.3" y2="346.5" stroke="#222" stroke-width="0.8"/>
<path d="M139.3 346.8 L133.3 345.7 L133.3 347.9 Z" fill="#111" stroke="#111" stroke-width="0.3" stroke-linejoin="miter"/>
<line x1="140" y1="339.3" x2="140" y2="351.8" stroke="#0c0c0c" stroke-width="1.7"/>
<g transform="translate(143.8 349.3)"><text transform="scale(0.7051 1)" font-size="14.53" x="0.00" stroke="#111" stroke-width="0.65">5</text></g>
<g transform="translate(290.5 222.5)"><text transform="scale(0.6400 1)" font-size="12.65" x="7.81 15.62" stroke="#111" stroke-width="0.65">70</text><path d="M0.72 -5.39 L2.97 -8.7 L2.52 0" fill="none" stroke="#111" stroke-width="1.4" stroke-linejoin="miter" stroke-linecap="butt"/></g>
<line x1="290.5" y1="223.5" x2="315.5" y2="223.5" stroke="#222" stroke-width="1.05"/>
<line x1="298.5" y1="222" x2="298.5" y2="249.5" stroke="#222" stroke-width="1.05"/>
<line x1="308.5" y1="220" x2="308.5" y2="240" stroke="#222" stroke-width="1.05"/>
<line x1="308.7" y1="240" x2="308.7" y2="249" stroke="#0c0c0c" stroke-width="1.6"/>
<line x1="294.9" y1="226.8" x2="301.3" y2="220.4" stroke="#1a1a1a" stroke-width="1.2"/>
<line x1="305.5" y1="226.8" x2="311.9" y2="220.4" stroke="#1a1a1a" stroke-width="1.2"/>
<g transform="translate(371 219)"><text transform="scale(0.5593 1)" font-size="12.65" x="7.03 14.07" stroke="#111" stroke-width="0.65">70</text><path d="M0.63 -5.39 L2.6 -8.7 L2.2 0" fill="none" stroke="#111" stroke-width="1.4" stroke-linejoin="miter" stroke-linecap="butt"/></g>
<line x1="361.5" y1="222.5" x2="384" y2="222.5" stroke="#222" stroke-width="1.05"/>
<line x1="369.5" y1="217.5" x2="369.5" y2="241" stroke="#222" stroke-width="1.05"/>
<line x1="369.1" y1="241" x2="369.1" y2="249" stroke="#0c0c0c" stroke-width="1.6"/>
<line x1="378.5" y1="217.5" x2="378.5" y2="249.5" stroke="#222" stroke-width="1.05"/>
<line x1="365.9" y1="225.7" x2="372.3" y2="219.3" stroke="#1a1a1a" stroke-width="1.2"/>
<line x1="375.2" y1="225.7" x2="381.6" y2="219.3" stroke="#1a1a1a" stroke-width="1.2"/>
<line x1="335.6" y1="230.5" x2="359" y2="230.5" stroke="#222" stroke-width="0.8"/>
<path d="M359 230 L349.5 228.5 L349.5 231.5 Z" fill="#111" stroke="#111" stroke-width="0.3" stroke-linejoin="miter"/>
<line x1="359.6" y1="225" x2="359.6" y2="244.8" stroke="#0c0c0c" stroke-width="1.7"/>
<g transform="translate(361.8 239.5)"><text transform="scale(0.5876 1)" font-size="17.44" x="0.00" stroke="#111" stroke-width="0.65">5</text></g>
<g transform="translate(241.7 236.5)"><text transform="scale(0.7421 1)" font-size="11.92" x="0.00 8.57" stroke="#111" stroke-width="0.6">ПЦ</text></g>
<g transform="translate(257.6 236.8)"><path d="M0.51 -6.51 L2.11 -10.5 L1.79 0" fill="none" stroke="#111" stroke-width="1.45" stroke-linejoin="miter" stroke-linecap="butt"/></g>
<line x1="232.8" y1="238.6" x2="272" y2="238.3" stroke="#222" stroke-width="1.05"/>
<path d="M272 238.3 L312 238.1 L368.1 246.3" fill="none" stroke="#222" stroke-width="1" stroke-linejoin="miter"/>
<line x1="272" y1="238.3" x2="308" y2="244.4" stroke="#222" stroke-width="1.05"/>
<g transform="translate(238.1 268.7)"><text transform="scale(0.9000 1)" font-size="11.19" x="0.00 10.45 19.86" stroke="#111" stroke-width="0.6">МЦа</text></g>
<g transform="translate(264.8 269)"><path d="M0.51 -6.45 L2.11 -10.4 L1.79 0" fill="none" stroke="#111" stroke-width="1.45" stroke-linejoin="miter" stroke-linecap="butt"/></g>
<line x1="230.4" y1="271.5" x2="272.2" y2="271.5" stroke="#222" stroke-width="1.05"/>
<line x1="272.2" y1="271" x2="298" y2="256.7" stroke="#222" stroke-width="1.05"/>
<circle cx="415.8" cy="235" r="12.6" fill="none" stroke="#151515" stroke-width="1.15"/>
<line x1="403.2" y1="235.5" x2="428.4" y2="235.5" stroke="#222" stroke-width="0.9"/>
<g transform="translate(410.65 233.4)"><text transform="scale(0.5153 1)" font-size="13.37" x="14.87" stroke="#111" stroke-width="0.8">б</text><path d="M0.61 -5.7 L2.53 -9.2 L2.15 0" fill="none" stroke="#111" stroke-width="1.45" stroke-linejoin="miter" stroke-linecap="butt"/><path d="M4.45 -5.7 L6.36 -9.2 L5.98 0" fill="none" stroke="#111" stroke-width="1.45" stroke-linejoin="miter" stroke-linecap="butt"/></g>
<g transform="translate(412.5 245.8)"><text transform="scale(0.4818 1)" font-size="13.81" x="7.68" stroke="#111" stroke-width="0.8">3</text><path d="M0.59 -5.89 L2.44 -9.5 L2.07 0" fill="none" stroke="#111" stroke-width="1.45" stroke-linejoin="miter" stroke-linecap="butt"/></g>
<line x1="404" y1="240.5" x2="381.8" y2="251.3" stroke="#222" stroke-width="1.05"/>
<g transform="translate(266.8 305)"><text transform="scale(0.5781 1)" font-size="15.55" x="0.00" stroke="#111" stroke-width="0.65">2</text></g>
<line x1="278.5" y1="281.8" x2="278.5" y2="306.3" stroke="#222" stroke-width="0.9"/>
<path d="M278.5 306.3 L277.3 299.3 L279.7 299.3 Z" fill="#111" stroke="#111" stroke-width="0.3" stroke-linejoin="miter"/>
<line x1="273" y1="306.8" x2="292.5" y2="306.8" stroke="#0c0c0c" stroke-width="1.7"/>
<line x1="385" y1="306.8" x2="405" y2="306.8" stroke="#0c0c0c" stroke-width="1.7"/>
<line x1="401.5" y1="278" x2="401.5" y2="306.3" stroke="#222" stroke-width="0.9"/>
<path d="M401.8 306.3 L400.6 299.3 L403 299.3 Z" fill="#111" stroke="#111" stroke-width="0.3" stroke-linejoin="miter"/>
<g transform="translate(406 300.5)"><text transform="scale(0.7175 1)" font-size="14.53" x="0.00" stroke="#111" stroke-width="0.65">2</text></g>
<circle cx="418" cy="335.8" r="12.6" fill="none" stroke="#151515" stroke-width="1.15"/>
<line x1="405.4" y1="335.5" x2="430.6" y2="335.5" stroke="#222" stroke-width="0.9"/>
<g transform="translate(414.7 334.2)"><text transform="scale(0.4975 1)" font-size="13.37" x="7.44" stroke="#111" stroke-width="0.8">2</text><path d="M0.59 -5.7 L2.44 -9.2 L2.07 0" fill="none" stroke="#111" stroke-width="1.45" stroke-linejoin="miter" stroke-linecap="butt"/></g>
<g transform="translate(414.7 346.6)"><path d="M0.63 -5.89 L2.62 -9.5 L2.22 0" fill="none" stroke="#111" stroke-width="1.45" stroke-linejoin="miter" stroke-linecap="butt"/><path d="M4.6 -5.89 L6.58 -9.5 L6.18 0" fill="none" stroke="#111" stroke-width="1.45" stroke-linejoin="miter" stroke-linecap="butt"/></g>
<line x1="381.8" y1="336.5" x2="405.5" y2="336.5" stroke="#222" stroke-width="1.05"/>
<line x1="298.5" y1="335.6" x2="298.5" y2="365.5" stroke="#222" stroke-width="1.05"/>
<line x1="378.5" y1="335.6" x2="378.5" y2="365.5" stroke="#222" stroke-width="1.05"/>
<line x1="293" y1="360.5" x2="381.8" y2="360.5" stroke="#222" stroke-width="1.05"/>
<line x1="294.8" y1="363.2" x2="301.2" y2="356.8" stroke="#1a1a1a" stroke-width="1.2"/>
<line x1="375" y1="363.2" x2="381.4" y2="356.8" stroke="#1a1a1a" stroke-width="1.2"/>
<g transform="translate(325.5 359.3)"><text transform="scale(0.6400 1)" font-size="13.08" x="9.29 18.59 27.88" stroke="#111" stroke-width="0.65">290</text><path d="M0.74 -5.58 L3.07 -9 L2.61 0" fill="none" stroke="#111" stroke-width="1.44" stroke-linejoin="miter" stroke-linecap="butt"/></g>
<line x1="348" y1="346.5" x2="358.5" y2="346.5" stroke="#222" stroke-width="0.8"/>
<path d="M358.5 346.8 L353.5 345.7 L353.5 347.9 Z" fill="#111" stroke="#111" stroke-width="0.3" stroke-linejoin="miter"/>
<line x1="359.3" y1="339.3" x2="359.3" y2="354.3" stroke="#0c0c0c" stroke-width="1.7"/>
<g transform="translate(361.8 349.3)"><text transform="scale(0.7051 1)" font-size="14.53" x="0.00" stroke="#111" stroke-width="0.65">5</text></g>
<g transform="translate(525 221.3)"><text transform="scale(0.6092 1)" font-size="12.79" x="7.11 14.23" stroke="#111" stroke-width="0.65">70</text><path d="M0.69 -5.46 L2.86 -8.8 L2.43 0" fill="none" stroke="#111" stroke-width="1.41" stroke-linejoin="miter" stroke-linecap="butt"/></g>
<line x1="523" y1="223.5" x2="543.8" y2="223.5" stroke="#222" stroke-width="1.05"/>
<line x1="529.5" y1="223" x2="529.5" y2="249.5" stroke="#222" stroke-width="0.8"/>
<line x1="539.5" y1="220" x2="539.5" y2="241" stroke="#222" stroke-width="1.05"/>
<line x1="539.7" y1="241" x2="539.7" y2="249" stroke="#0c0c0c" stroke-width="1.6"/>
<line x1="526.3" y1="226.7" x2="532.7" y2="220.3" stroke="#1a1a1a" stroke-width="1.2"/>
<line x1="536.5" y1="226.7" x2="542.9" y2="220.3" stroke="#1a1a1a" stroke-width="1.2"/>
<g transform="translate(617.3 220)"><text transform="scale(0.5545 1)" font-size="12.65" x="7.03 14.07" stroke="#111" stroke-width="0.65">70</text><path d="M0.62 -5.39 L2.57 -8.7 L2.18 0" fill="none" stroke="#111" stroke-width="1.4" stroke-linejoin="miter" stroke-linecap="butt"/></g>
<line x1="611" y1="222.5" x2="628.5" y2="222.5" stroke="#222" stroke-width="1.05"/>
<line x1="613.5" y1="221" x2="613.5" y2="241" stroke="#222" stroke-width="1.05"/>
<line x1="613.7" y1="241" x2="613.7" y2="249" stroke="#0c0c0c" stroke-width="1.6"/>
<line x1="623.5" y1="221" x2="623.5" y2="249.5" stroke="#222" stroke-width="1.05"/>
<line x1="610.3" y1="225.2" x2="616.7" y2="218.8" stroke="#1a1a1a" stroke-width="1.2"/>
<line x1="619.8" y1="225.2" x2="626.2" y2="218.8" stroke="#1a1a1a" stroke-width="1.2"/>
<line x1="576.3" y1="227.5" x2="600.5" y2="227.5" stroke="#222" stroke-width="0.8"/>
<path d="M600.5 227 L590.5 225.5 L590.5 228.5 Z" fill="#111" stroke="#111" stroke-width="0.3" stroke-linejoin="miter"/>
<line x1="601" y1="223" x2="601" y2="235.5" stroke="#0c0c0c" stroke-width="1.7"/>
<g transform="translate(603.5 234.5)"><text transform="scale(0.7284 1)" font-size="15.55" x="0.00" stroke="#111" stroke-width="0.65">5</text></g>
<g transform="translate(467.5 236)"><text transform="scale(0.8225 1)" font-size="11.34" x="0.00 8.15" stroke="#111" stroke-width="0.6">ПЦ</text></g>
<g transform="translate(484.1 236.3)"><path d="M0.51 -6.14 L2.11 -9.9 L1.79 0" fill="none" stroke="#111" stroke-width="1.45" stroke-linejoin="miter" stroke-linecap="butt"/></g>
<line x1="460.5" y1="237.5" x2="591.3" y2="237.5" stroke="#222" stroke-width="1.05"/>
<line x1="591.3" y1="237.5" x2="613.7" y2="245" stroke="#222" stroke-width="1.05"/>
<line x1="517" y1="237.5" x2="539.4" y2="245.6" stroke="#222" stroke-width="1.05"/>
<g transform="translate(461.5 271.5)"><text transform="scale(0.9000 1)" font-size="11.34" x="0.00 10.75 20.45" stroke="#111" stroke-width="0.6">МЦа</text></g>
<g transform="translate(490.3 271.8)"><path d="M0.51 -6.39 L2.11 -10.3 L1.79 0" fill="none" stroke="#111" stroke-width="1.45" stroke-linejoin="miter" stroke-linecap="butt"/></g>
<line x1="457.3" y1="273.5" x2="503" y2="273.5" stroke="#222" stroke-width="1.05"/>
<line x1="503" y1="273" x2="532.3" y2="256.3" stroke="#222" stroke-width="1.05"/>
<circle cx="660.4" cy="231.6" r="12.4" fill="none" stroke="#151515" stroke-width="1.15"/>
<line x1="648" y1="231.5" x2="672.8" y2="231.5" stroke="#222" stroke-width="0.9"/>
<g transform="translate(655.25 230)"><text transform="scale(0.5153 1)" font-size="13.37" x="14.87" stroke="#111" stroke-width="0.8">б</text><path d="M0.61 -5.7 L2.53 -9.2 L2.15 0" fill="none" stroke="#111" stroke-width="1.45" stroke-linejoin="miter" stroke-linecap="butt"/><path d="M4.45 -5.7 L6.36 -9.2 L5.98 0" fill="none" stroke="#111" stroke-width="1.45" stroke-linejoin="miter" stroke-linecap="butt"/></g>
<g transform="translate(657.1 242.4)"><text transform="scale(0.4818 1)" font-size="13.81" x="7.68" stroke="#111" stroke-width="0.8">3</text><path d="M0.59 -5.89 L2.44 -9.5 L2.07 0" fill="none" stroke="#111" stroke-width="1.45" stroke-linejoin="miter" stroke-linecap="butt"/></g>
<line x1="649.5" y1="237" x2="624" y2="250.5" stroke="#222" stroke-width="1.05"/>
<g transform="translate(495.5 304.3)"><text transform="scale(0.6300 1)" font-size="15.7" x="0.00" stroke="#111" stroke-width="0.65">3</text></g>
<line x1="506.5" y1="284.3" x2="506.5" y2="307" stroke="#222" stroke-width="0.9"/>
<path d="M506.5 307 L505.3 300 L507.7 300 Z" fill="#111" stroke="#111" stroke-width="0.3" stroke-linejoin="miter"/>
<line x1="501" y1="307.5" x2="521.5" y2="307.5" stroke="#0c0c0c" stroke-width="1.7"/>
<line x1="628.5" y1="306.8" x2="647.3" y2="306.8" stroke="#0c0c0c" stroke-width="1.7"/>
<line x1="644.5" y1="284.3" x2="644.5" y2="306.3" stroke="#222" stroke-width="0.9"/>
<path d="M644.8 306.3 L643.6 299.3 L646 299.3 Z" fill="#111" stroke="#111" stroke-width="0.3" stroke-linejoin="miter"/>
<g transform="translate(649 304.3)"><text transform="scale(0.5727 1)" font-size="15.7" x="0.00" stroke="#111" stroke-width="0.65">3</text></g>
<circle cx="663" cy="335.3" r="12.3" fill="none" stroke="#151515" stroke-width="1.15"/>
<line x1="650.7" y1="335.5" x2="675.3" y2="335.5" stroke="#222" stroke-width="0.9"/>
<g transform="translate(659.7 333.7)"><text transform="scale(0.4975 1)" font-size="13.37" x="7.44" stroke="#111" stroke-width="0.8">2</text><path d="M0.59 -5.7 L2.44 -9.2 L2.07 0" fill="none" stroke="#111" stroke-width="1.45" stroke-linejoin="miter" stroke-linecap="butt"/></g>
<g transform="translate(659.7 346.1)"><path d="M0.63 -5.89 L2.62 -9.5 L2.22 0" fill="none" stroke="#111" stroke-width="1.45" stroke-linejoin="miter" stroke-linecap="butt"/><path d="M4.6 -5.89 L6.58 -9.5 L6.18 0" fill="none" stroke="#111" stroke-width="1.45" stroke-linejoin="miter" stroke-linecap="butt"/></g>
<line x1="633.5" y1="336.5" x2="650.7" y2="336.5" stroke="#222" stroke-width="1.05"/>
<line x1="529.5" y1="335.6" x2="529.5" y2="363" stroke="#222" stroke-width="1.05"/>
<line x1="623.5" y1="335.6" x2="623.5" y2="363" stroke="#222" stroke-width="1.05"/>
<line x1="526" y1="360.5" x2="627.3" y2="360.5" stroke="#222" stroke-width="1.05"/>
<line x1="525.8" y1="363.7" x2="532.2" y2="357.3" stroke="#1a1a1a" stroke-width="1.2"/>
<line x1="619.8" y1="363.7" x2="626.2" y2="357.3" stroke="#1a1a1a" stroke-width="1.2"/>
<g transform="translate(562.3 358)"><text transform="scale(0.6400 1)" font-size="13.81" x="9.78 19.57 29.35" stroke="#111" stroke-width="0.65">590</text><path d="M0.79 -5.89 L3.24 -9.5 L2.75 0" fill="none" stroke="#111" stroke-width="1.45" stroke-linejoin="miter" stroke-linecap="butt"/></g>
<line x1="586" y1="346.5" x2="601.5" y2="346.5" stroke="#222" stroke-width="0.8"/>
<path d="M601.5 346.8 L595.5 345.7 L595.5 347.9 Z" fill="#111" stroke="#111" stroke-width="0.3" stroke-linejoin="miter"/>
<line x1="602.3" y1="338" x2="602.3" y2="352.5" stroke="#0c0c0c" stroke-width="1.7"/>
<g transform="translate(605.5 349.3)"><text transform="scale(0.5567 1)" font-size="14.53" x="0.00" stroke="#111" stroke-width="0.65">5</text></g>
<g transform="translate(764 213.8)"><text transform="scale(0.7663 1)" font-size="16.42" x="0.00" stroke="#111" stroke-width="0.6">5</text></g>
<line x1="777" y1="208.8" x2="784" y2="208.8" stroke="#0c0c0c" stroke-width="1.9"/>
<g transform="translate(787.8 213.8)"><text transform="scale(0.7335 1)" font-size="16.42" x="0.00" stroke="#111" stroke-width="0.6">5</text></g>
<line x1="757.8" y1="220.8" x2="799" y2="220.8" stroke="#0c0c0c" stroke-width="1.6"/>
<path d="M771.6 335 L771.6 248.8 L790.3 248.8 L790.3 335" fill="none" stroke="#0c0c0c" stroke-width="1.7" stroke-linejoin="miter"/>
<line x1="771.2" y1="335" x2="790.7" y2="335" stroke="#0c0c0c" stroke-width="1.9"/>
<line x1="774.6" y1="252.6" x2="786.8" y2="252.6" stroke="#0c0c0c" stroke-width="1.9"/>
<circle cx="776.6" cy="254.8" r="1.8" fill="#0a0a0a"/>
<circle cx="784.4" cy="254.8" r="1.8" fill="#0a0a0a"/>
<line x1="775.3" y1="256.3" x2="753.6" y2="275.3" stroke="#222" stroke-width="1"/>
<line x1="676" y1="276.2" x2="753.6" y2="275.3" stroke="#222" stroke-width="1"/>
<g transform="translate(677.7 272.7)"><text transform="scale(0.8000 1)" font-size="11.19" x="0.00 7.97 15.95 25.78 33.76 41.10 48.72 56.70 65.29 75.71" stroke="#111" stroke-width="0.7">АРМАТУРНЫЙ</text></g>
<line x1="741.5" y1="259.8" x2="741.8" y2="262.5" stroke="#222" stroke-width="0.8"/>
<g transform="translate(698.9 285)"><text transform="scale(0.8000 1)" font-size="9.45" x="0.00 7.57 15.15 23.87" stroke="#111" stroke-width="0.7">БЛОК</text></g>
<g transform="translate(672.6 295.4)"><text transform="scale(0.8000 1)" font-size="9.88" x="0.00 7.60 15.91 22.95 29.45 40.25 46.75 57.00 63.50 71.00" stroke="#111" stroke-width="0.7">АЦТ2-0.9.3</text><path d="M27.7 -4.22 L29.9 -6.8 L29.46 0" fill="none" stroke="#111" stroke-width="1.23" stroke-linejoin="miter" stroke-linecap="butt"/><path d="M41.1 -4.22 L43.3 -6.8 L42.86 0" fill="none" stroke="#111" stroke-width="1.23" stroke-linejoin="miter" stroke-linecap="butt"/></g>
<g transform="translate(672.6 304.8)"><text transform="scale(0.8000 1)" font-size="9.74" x="0.00 7.70 16.12 23.27 29.90 40.97 47.60 58.13 64.76 72.58" stroke="#111" stroke-width="0.7">АЦТ2-3.9.3</text><path d="M28.17 -4.15 L30.34 -6.7 L29.9 0" fill="none" stroke="#111" stroke-width="1.22" stroke-linejoin="miter" stroke-linecap="butt"/><path d="M41.9 -4.15 L44.07 -6.7 L43.63 0" fill="none" stroke="#111" stroke-width="1.22" stroke-linejoin="miter" stroke-linecap="butt"/></g>
<g transform="translate(672.6 314.3)"><text transform="scale(0.8000 1)" font-size="9.74" x="0.00 7.47 15.65 26.25 32.64 43.25 49.64 63.39 69.78 73.46" stroke="#111" stroke-width="0.7">АЦТ2-6.9.3</text><path d="M30.18 -4.15 L32.35 -6.7 L31.91 0" fill="none" stroke="#111" stroke-width="1.22" stroke-linejoin="miter" stroke-linecap="butt"/><path d="M46.29 -4.15 L48.46 -6.7 L48.03 0" fill="none" stroke="#111" stroke-width="1.22" stroke-linejoin="miter" stroke-linecap="butt"/></g>
<line x1="790.3" y1="248.5" x2="848" y2="248.5" stroke="#222" stroke-width="1.05"/>
<line x1="843.5" y1="244.3" x2="843.5" y2="338" stroke="#222" stroke-width="1.05"/>
<line x1="840" y1="245.3" x2="847" y2="252.3" stroke="#222" stroke-width="1"/>
<g transform="translate(841.8 303.5) rotate(-90)"><text transform="scale(0.6400 1)" font-size="13.08" x="8.56 17.13 25.69" stroke="#111" stroke-width="0.85">900</text><path d="M0.74 -5.58 L3.07 -9 L2.61 0" fill="none" stroke="#111" stroke-width="1.45" stroke-linejoin="miter" stroke-linecap="butt"/></g>
<line x1="792.8" y1="335.5" x2="848" y2="335.5" stroke="#222" stroke-width="1.05"/>
<line x1="840" y1="331.5" x2="847" y2="338.5" stroke="#222" stroke-width="1"/>
<line x1="790.3" y1="328.5" x2="816.5" y2="328.5" stroke="#222" stroke-width="1.05"/>
<line x1="811.5" y1="319.8" x2="811.5" y2="338" stroke="#222" stroke-width="1.05"/>
<line x1="808.6" y1="325.3" x2="815" y2="331.7" stroke="#1a1a1a" stroke-width="1.1"/>
<line x1="808.6" y1="331.8" x2="815" y2="338.2" stroke="#1a1a1a" stroke-width="1.1"/>
<path d="M799 321.1 L806.8 321.1 L808.3 318.8 L800.4 318.8" fill="none" stroke="#111" stroke-width="1.4" stroke-linecap="round" stroke-linejoin="round"/>
<ellipse cx="804.8" cy="315.3" rx="3.9" ry="1.3" fill="#555" stroke="#111" stroke-width="1.3"/>
<line x1="774" y1="331" x2="786.8" y2="331" stroke="#0c0c0c" stroke-width="1.4"/>
<circle cx="776" cy="328.8" r="1.7" fill="#0a0a0a"/>
<circle cx="784" cy="328.8" r="1.7" fill="#0a0a0a"/>
<line x1="771.5" y1="335" x2="771.5" y2="362.5" stroke="#222" stroke-width="1.05"/>
<line x1="790.5" y1="335" x2="790.5" y2="362.5" stroke="#222" stroke-width="1.05"/>
<line x1="769.5" y1="360.5" x2="797.8" y2="360.5" stroke="#222" stroke-width="1.05"/>
<line x1="768.4" y1="363.8" x2="774.8" y2="357.4" stroke="#1a1a1a" stroke-width="1.2"/>
<line x1="787.1" y1="363.8" x2="793.5" y2="357.4" stroke="#1a1a1a" stroke-width="1.2"/>
<g transform="translate(774.8 357.8)"><text transform="scale(0.6400 1)" font-size="11.92" x="0.00 8.56 17.12" stroke="#111" stroke-width="0.65">300</text></g>
<g transform="translate(115.3 385)"><path d="M0.64 -6.94 L2.64 -11.2 L2.24 0" fill="none" stroke="#111" stroke-width="1.45" stroke-linejoin="miter" stroke-linecap="butt"/></g>
<line x1="122" y1="380.6" x2="135" y2="380.6" stroke="#0c0c0c" stroke-width="1.7"/>
<g transform="translate(141 385)"><path d="M0.64 -6.94 L2.64 -11.2 L2.24 0" fill="none" stroke="#111" stroke-width="1.45" stroke-linejoin="miter" stroke-linecap="butt"/></g>
<line x1="112.5" y1="387.6" x2="148.8" y2="387.6" stroke="#0c0c0c" stroke-width="1.6"/>
<path d="M98.1 396.6 L98.1 404.8 L106.2 407.4 L101.6 412.9 L157 412.9 L154.3 408.3 L161.3 406.1 L161.3 396.6 Z" fill="none" stroke="#0c0c0c" stroke-width="1.4" stroke-linejoin="miter"/>
<line x1="107.7" y1="398.8" x2="107.7" y2="411" stroke="#0c0c0c" stroke-width="1.6"/>
<ellipse cx="109.7" cy="402.46" rx="2.3" ry="1.6" fill="#0a0a0a"/>
<ellipse cx="109.7" cy="408.56" rx="2.3" ry="1.6" fill="#0a0a0a"/>
<line x1="131.7" y1="398.8" x2="131.7" y2="411" stroke="#0c0c0c" stroke-width="1.6"/>
<ellipse cx="129.7" cy="402.46" rx="2.3" ry="1.6" fill="#0a0a0a"/>
<ellipse cx="129.7" cy="408.56" rx="2.3" ry="1.6" fill="#0a0a0a"/>
<line x1="151.7" y1="398.8" x2="151.7" y2="411" stroke="#0c0c0c" stroke-width="1.6"/>
<ellipse cx="149.7" cy="402.46" rx="2.3" ry="1.6" fill="#0a0a0a"/>
<ellipse cx="149.7" cy="408.56" rx="2.3" ry="1.6" fill="#0a0a0a"/>
<g transform="translate(23.6 420)"><text transform="scale(0.8000 1)" font-size="10.32" x="0.00 7.93 15.86 25.51 33.44 40.79 48.39 56.32 64.82 75.00" stroke="#111" stroke-width="0.7">АРМАТУРНЫЙ</text></g>
<line x1="22" y1="421.5" x2="87.5" y2="421.5" stroke="#222" stroke-width="1.1"/>
<line x1="87.5" y1="421.6" x2="105.5" y2="407.6" stroke="#222" stroke-width="1.2"/>
<line x1="85.5" y1="405.5" x2="86" y2="407.5" stroke="#222" stroke-width="0.9"/>
<g transform="translate(40.9 432.8)"><text transform="scale(0.8000 1)" font-size="9.74" x="0.00 9.26 18.51 28.95" stroke="#111" stroke-width="0.7">БЛОК</text></g>
<g transform="translate(23.2 443.6)"><text transform="scale(0.8000 1)" font-size="9.88" x="0.00 7.90 16.53 23.87 30.68 42.09 48.90 52.96 59.76 66.57 70.63" stroke="#111" stroke-width="0.7">АЦТ2-0.20.3</text><path d="M28.93 -4.22 L31.13 -6.8 L30.69 0" fill="none" stroke="#111" stroke-width="1.23" stroke-linejoin="miter" stroke-linecap="butt"/></g>
<g transform="translate(23.2 454)"><text transform="scale(0.8000 1)" font-size="9.88" x="0.00 7.90 16.53 23.87 30.68 42.09 48.90 59.76 66.57 70.63" stroke="#111" stroke-width="0.7">АЦТ2-0.9.3</text><path d="M28.93 -4.22 L31.13 -6.8 L30.69 0" fill="none" stroke="#111" stroke-width="1.23" stroke-linejoin="miter" stroke-linecap="butt"/><path d="M43.07 -4.22 L45.27 -6.8 L44.83 0" fill="none" stroke="#111" stroke-width="1.23" stroke-linejoin="miter" stroke-linecap="butt"/></g>
<line x1="98.5" y1="413" x2="98.5" y2="448.8" stroke="#222" stroke-width="1.05"/>
<line x1="161.5" y1="411.3" x2="161.5" y2="448" stroke="#222" stroke-width="1.05"/>
<line x1="93" y1="442.5" x2="165" y2="442.5" stroke="#222" stroke-width="1.05"/>
<line x1="94.9" y1="445.2" x2="101.3" y2="438.8" stroke="#1a1a1a" stroke-width="1.2"/>
<line x1="158.1" y1="445.2" x2="164.5" y2="438.8" stroke="#1a1a1a" stroke-width="1.2"/>
<g transform="translate(120.5 441.3)"><text transform="scale(0.6400 1)" font-size="13.52" x="0.00 11.48 22.95" stroke="#111" stroke-width="0.65">990</text></g>
<line x1="149.5" y1="412.5" x2="149.5" y2="435" stroke="#222" stroke-width="1.05"/>
<line x1="145" y1="427.5" x2="165" y2="427.5" stroke="#222" stroke-width="1.05"/>
<line x1="146.9" y1="430.1" x2="152.1" y2="424.9" stroke="#1a1a1a" stroke-width="1.2"/>
<line x1="158.7" y1="430.1" x2="163.9" y2="424.9" stroke="#1a1a1a" stroke-width="1.2"/>
<g transform="translate(166.3 426.3)"><text transform="scale(0.5649 1)" font-size="14.53" x="8.08 16.17" stroke="#111" stroke-width="0.65">50</text><path d="M0.73 -6.2 L3.01 -10 L2.56 0" fill="none" stroke="#111" stroke-width="1.45" stroke-linejoin="miter" stroke-linecap="butt"/></g>
<line x1="163.3" y1="407.5" x2="195" y2="407.5" stroke="#222" stroke-width="1.05"/>
<line x1="165.8" y1="413.5" x2="193.2" y2="413.5" stroke="#222" stroke-width="1.05"/>
<line x1="187.5" y1="401" x2="187.5" y2="419.3" stroke="#222" stroke-width="1.05"/>
<line x1="185" y1="404.9" x2="190.2" y2="410.1" stroke="#1a1a1a" stroke-width="1"/>
<line x1="185" y1="410.2" x2="190.2" y2="415.4" stroke="#1a1a1a" stroke-width="1"/>
<g transform="translate(185.3 404.8) rotate(-90)"><text transform="scale(0.6344 1)" font-size="11.34" x="0.00 6.31" stroke="#111" stroke-width="0.65">35</text></g>
<g transform="translate(320.6 383.6)"><text transform="scale(0.9516 1)" font-size="15.12" x="0.00" stroke="#111" stroke-width="0.6">2</text></g>
<line x1="335.2" y1="379.4" x2="344.3" y2="379.4" stroke="#0c0c0c" stroke-width="1.7"/>
<g transform="translate(350.8 383.6)"><text transform="scale(1.0230 1)" font-size="15.12" x="0.00" stroke="#111" stroke-width="0.6">2</text></g>
<line x1="318.2" y1="387.7" x2="364.8" y2="387.7" stroke="#0c0c0c" stroke-width="1.6"/>
<path d="M297.3 396.5 L297.3 406 L307.6 409.3 L304 413.3 L373 413.3 L370 409 L379.5 406 L379.5 396.5 Z" fill="none" stroke="#0c0c0c" stroke-width="1.4" stroke-linejoin="miter"/>
<line x1="310.5" y1="399" x2="310.5" y2="410.5" stroke="#0c0c0c" stroke-width="1.6"/>
<ellipse cx="312.5" cy="402.45" rx="2.3" ry="1.6" fill="#0a0a0a"/>
<ellipse cx="312.5" cy="408.2" rx="2.3" ry="1.6" fill="#0a0a0a"/>
<line x1="328" y1="399" x2="328" y2="410.5" stroke="#0c0c0c" stroke-width="1.6"/>
<ellipse cx="326" cy="402.45" rx="2.3" ry="1.6" fill="#0a0a0a"/>
<ellipse cx="326" cy="408.2" rx="2.3" ry="1.6" fill="#0a0a0a"/>
<line x1="349.3" y1="399" x2="349.3" y2="410.5" stroke="#0c0c0c" stroke-width="1.6"/>
<ellipse cx="347.3" cy="402.45" rx="2.3" ry="1.6" fill="#0a0a0a"/>
<ellipse cx="347.3" cy="408.2" rx="2.3" ry="1.6" fill="#0a0a0a"/>
<line x1="366.7" y1="399" x2="366.7" y2="410.5" stroke="#0c0c0c" stroke-width="1.6"/>
<ellipse cx="364.7" cy="402.45" rx="2.3" ry="1.6" fill="#0a0a0a"/>
<ellipse cx="364.7" cy="408.2" rx="2.3" ry="1.6" fill="#0a0a0a"/>
<g transform="translate(212 418.3)"><text transform="scale(0.8000 1)" font-size="10.61" x="0.00 9.07 18.13 28.96 38.02 46.49 55.22 64.29 73.94 85.32" stroke="#111" stroke-width="0.7">АРМАТУРНЫЙ</text></g>
<line x1="208.8" y1="420.5" x2="285.8" y2="420.5" stroke="#222" stroke-width="1"/>
<line x1="285.8" y1="420" x2="309" y2="407.3" stroke="#222" stroke-width="1"/>
<line x1="283" y1="402.5" x2="283.5" y2="405" stroke="#222" stroke-width="0.9"/>
<g transform="translate(232.8 430)"><text transform="scale(0.8000 1)" font-size="9.45" x="0.00 8.57 17.15 26.87" stroke="#111" stroke-width="0.7">БЛОК</text></g>
<g transform="translate(203.8 440.4)"><text transform="scale(0.8000 1)" font-size="9.74" x="0.00 8.35 17.42 25.23 32.50 44.88 52.15 56.72 63.99 75.83" stroke="#111" stroke-width="0.7">АЦТ2-3.203</text><path d="M30.78 -4.15 L32.94 -6.7 L32.51 0" fill="none" stroke="#111" stroke-width="1.22" stroke-linejoin="miter" stroke-linecap="butt"/></g>
<g transform="translate(203.8 450.5)"><text transform="scale(0.8000 1)" font-size="9.74" x="0.00 7.97 16.66 24.08 30.98 42.60 60.57 67.47 75.83" stroke="#111" stroke-width="0.7">АЦТ2-39.3</text><path d="M29.25 -4.15 L31.42 -6.7 L30.99 0" fill="none" stroke="#111" stroke-width="1.22" stroke-linejoin="miter" stroke-linecap="butt"/><path d="M43.63 -4.15 L45.8 -6.7 L45.37 0" fill="none" stroke="#111" stroke-width="1.22" stroke-linejoin="miter" stroke-linecap="butt"/></g>
<line x1="297.5" y1="413" x2="297.5" y2="449.5" stroke="#222" stroke-width="1.05"/>
<line x1="379.5" y1="409" x2="379.5" y2="450" stroke="#222" stroke-width="1.05"/>
<line x1="295" y1="442.5" x2="383.5" y2="442.5" stroke="#222" stroke-width="1.05"/>
<line x1="294.1" y1="445.7" x2="300.5" y2="439.3" stroke="#1a1a1a" stroke-width="1.2"/>
<line x1="376.3" y1="445.7" x2="382.7" y2="439.3" stroke="#1a1a1a" stroke-width="1.2"/>
<g transform="translate(329.4 440.6)"><text transform="scale(0.6400 1)" font-size="13.95" x="8.87 17.74 26.61" stroke="#111" stroke-width="0.65">290</text><path d="M0.79 -5.95 L3.28 -9.6 L2.78 0" fill="none" stroke="#111" stroke-width="1.45" stroke-linejoin="miter" stroke-linecap="butt"/></g>
<line x1="365.5" y1="413.7" x2="365.5" y2="434.2" stroke="#222" stroke-width="1.05"/>
<line x1="361" y1="426.5" x2="382.7" y2="426.5" stroke="#222" stroke-width="1.05"/>
<line x1="362.4" y1="428.8" x2="367.6" y2="423.6" stroke="#1a1a1a" stroke-width="1.2"/>
<line x1="376.9" y1="428.8" x2="382.1" y2="423.6" stroke="#1a1a1a" stroke-width="1.2"/>
<g transform="translate(384.3 425)"><text transform="scale(0.5819 1)" font-size="13.08" x="7.28 14.55" stroke="#111" stroke-width="0.65">50</text><path d="M0.68 -5.58 L2.79 -9 L2.37 0" fill="none" stroke="#111" stroke-width="1.44" stroke-linejoin="miter" stroke-linecap="butt"/></g>
<line x1="384" y1="408.5" x2="401.2" y2="408.5" stroke="#222" stroke-width="1.05"/>
<line x1="383.3" y1="411.5" x2="401.5" y2="411.5" stroke="#222" stroke-width="1.05"/>
<line x1="398.5" y1="393" x2="398.5" y2="415.5" stroke="#555" stroke-width="0.9"/>
<line x1="395.8" y1="405.9" x2="400.6" y2="410.7" stroke="#1a1a1a" stroke-width="1"/>
<line x1="395.8" y1="409.3" x2="400.6" y2="414.1" stroke="#1a1a1a" stroke-width="1"/>
<g transform="translate(394.6 405.2) rotate(-90)"><text transform="scale(0.6400 1)" font-size="10.76" x="0.00 6.83" stroke="#111" stroke-width="0.65">35</text></g>
<g transform="translate(221.7 471.6)"><text transform="scale(0.7936 1)" font-size="15.41" x="0.00" stroke="#111" stroke-width="0.6">3</text></g>
<line x1="235.3" y1="467" x2="243" y2="467" stroke="#0c0c0c" stroke-width="1.7"/>
<g transform="translate(249.5 471.6)"><text transform="scale(0.7352 1)" font-size="15.41" x="0.00" stroke="#111" stroke-width="0.6">3</text></g>
<line x1="218.7" y1="474.2" x2="261.6" y2="474.2" stroke="#0c0c0c" stroke-width="1.6"/>
<path d="M190 484.7 L190 493.6 L199.2 496 L196.3 500 L281 500 L277.2 497 L285 494 L285 484.7 Z" fill="none" stroke="#0c0c0c" stroke-width="1.4" stroke-linejoin="miter"/>
<line x1="205" y1="487.2" x2="205" y2="498" stroke="#0c0c0c" stroke-width="1.6"/>
<ellipse cx="207" cy="490.44" rx="2.3" ry="1.6" fill="#0a0a0a"/>
<ellipse cx="207" cy="495.84" rx="2.3" ry="1.6" fill="#0a0a0a"/>
<line x1="222.2" y1="487.2" x2="222.2" y2="498" stroke="#0c0c0c" stroke-width="1.6"/>
<ellipse cx="220.2" cy="490.44" rx="2.3" ry="1.6" fill="#0a0a0a"/>
<ellipse cx="220.2" cy="495.84" rx="2.3" ry="1.6" fill="#0a0a0a"/>
<line x1="243" y1="487.2" x2="243" y2="498" stroke="#0c0c0c" stroke-width="1.6"/>
<ellipse cx="241" cy="490.44" rx="2.3" ry="1.6" fill="#0a0a0a"/>
<ellipse cx="241" cy="495.84" rx="2.3" ry="1.6" fill="#0a0a0a"/>
<line x1="259.7" y1="487.2" x2="259.7" y2="498" stroke="#0c0c0c" stroke-width="1.6"/>
<ellipse cx="257.7" cy="490.44" rx="2.3" ry="1.6" fill="#0a0a0a"/>
<ellipse cx="257.7" cy="495.84" rx="2.3" ry="1.6" fill="#0a0a0a"/>
<line x1="275.3" y1="487.2" x2="275.3" y2="498" stroke="#0c0c0c" stroke-width="1.6"/>
<ellipse cx="273.3" cy="490.44" rx="2.3" ry="1.6" fill="#0a0a0a"/>
<ellipse cx="273.3" cy="495.84" rx="2.3" ry="1.6" fill="#0a0a0a"/>
<g transform="translate(95.3 507.2)"><text transform="scale(0.8000 1)" font-size="11.34" x="0.00 9.25 18.50 29.63 38.88 47.50 56.39 65.64 75.51 87.24" stroke="#111" stroke-width="0.7">АРМАТУРНЫЙ</text></g>
<line x1="92.9" y1="510.5" x2="171.6" y2="510.5" stroke="#222" stroke-width="1.1"/>
<line x1="171.6" y1="510.4" x2="201.7" y2="494.3" stroke="#222" stroke-width="1.1"/>
<line x1="169.5" y1="494" x2="170" y2="496.5" stroke="#222" stroke-width="0.9"/>
<g transform="translate(117.8 521.9)"><text transform="scale(0.8000 1)" font-size="9.45" x="0.00 9.49 18.98 29.62" stroke="#111" stroke-width="0.7">БЛОК</text></g>
<g transform="translate(66.1 533.2)"><text transform="scale(0.8000 1)" font-size="10.32" x="0.00 7.09 14.93 21.45 27.39 36.99 46.01 51.96 57.91 64.06 70.00 76.15 83.25 91.09 97.60 103.55 113.14 119.09 128.11 137.14" stroke="#111" stroke-width="0.7">АЦТ2-620.3,АЦТ2-6.93</text><path d="M25.57 -4.4 L27.86 -7.1 L27.4 0" fill="none" stroke="#111" stroke-width="1.26" stroke-linejoin="miter" stroke-linecap="butt"/><path d="M86.49 -4.4 L88.79 -7.1 L88.33 0" fill="none" stroke="#111" stroke-width="1.26" stroke-linejoin="miter" stroke-linecap="butt"/><path d="M98.47 -4.4 L100.76 -7.1 L100.3 0" fill="none" stroke="#111" stroke-width="1.26" stroke-linejoin="miter" stroke-linecap="butt"/></g>
<line x1="190.5" y1="500" x2="190.5" y2="534" stroke="#222" stroke-width="1.05"/>
<line x1="285.5" y1="495" x2="285.5" y2="534" stroke="#222" stroke-width="1.05"/>
<line x1="188.5" y1="529.5" x2="287" y2="529.5" stroke="#222" stroke-width="1.05"/>
<line x1="186.8" y1="532.7" x2="193.2" y2="526.3" stroke="#1a1a1a" stroke-width="1.2"/>
<line x1="281.8" y1="532.7" x2="288.2" y2="526.3" stroke="#1a1a1a" stroke-width="1.2"/>
<g transform="translate(226.5 527.6)"><text transform="scale(0.6400 1)" font-size="14.24" x="8.04 16.07 24.11" stroke="#111" stroke-width="0.65">590</text><path d="M0.81 -6.08 L3.35 -9.8 L2.84 0" fill="none" stroke="#111" stroke-width="1.45" stroke-linejoin="miter" stroke-linecap="butt"/></g>
<line x1="273.5" y1="503.8" x2="273.5" y2="520.4" stroke="#222" stroke-width="1.05"/>
<line x1="269.4" y1="514.5" x2="289" y2="514.5" stroke="#222" stroke-width="1.05"/>
<line x1="270.4" y1="516.6" x2="275.6" y2="511.4" stroke="#1a1a1a" stroke-width="1.2"/>
<line x1="282.4" y1="516.6" x2="287.6" y2="511.4" stroke="#1a1a1a" stroke-width="1.2"/>
<g transform="translate(288 512.6)"><text transform="scale(0.5904 1)" font-size="12.79" x="7.11 14.23" stroke="#111" stroke-width="0.65">50</text><path d="M0.67 -5.46 L2.77 -8.8 L2.35 0" fill="none" stroke="#111" stroke-width="1.41" stroke-linejoin="miter" stroke-linecap="butt"/></g>
<line x1="286.6" y1="495.5" x2="321" y2="495.5" stroke="#222" stroke-width="1.05"/>
<line x1="289" y1="500.5" x2="321" y2="500.5" stroke="#222" stroke-width="1.05"/>
<line x1="316.5" y1="479.4" x2="316.5" y2="508.7" stroke="#222" stroke-width="1.05"/>
<line x1="314" y1="493" x2="319.2" y2="498.2" stroke="#1a1a1a" stroke-width="1"/>
<line x1="314" y1="497.7" x2="319.2" y2="502.9" stroke="#1a1a1a" stroke-width="1"/>
<g transform="translate(314.3 492) rotate(-90)"><text transform="scale(0.5786 1)" font-size="13.52" x="0.00 7.52" stroke="#111" stroke-width="0.65">35</text></g>
<line x1="540" y1="0.5" x2="872" y2="0.5" stroke="#f1f1f1" stroke-width="1"/>
</g>
<defs><filter id="soft" x="0" y="0" width="100%" height="100%"><feGaussianBlur stdDeviation="0.3"/></filter></defs>
</svg>
</body></html>
